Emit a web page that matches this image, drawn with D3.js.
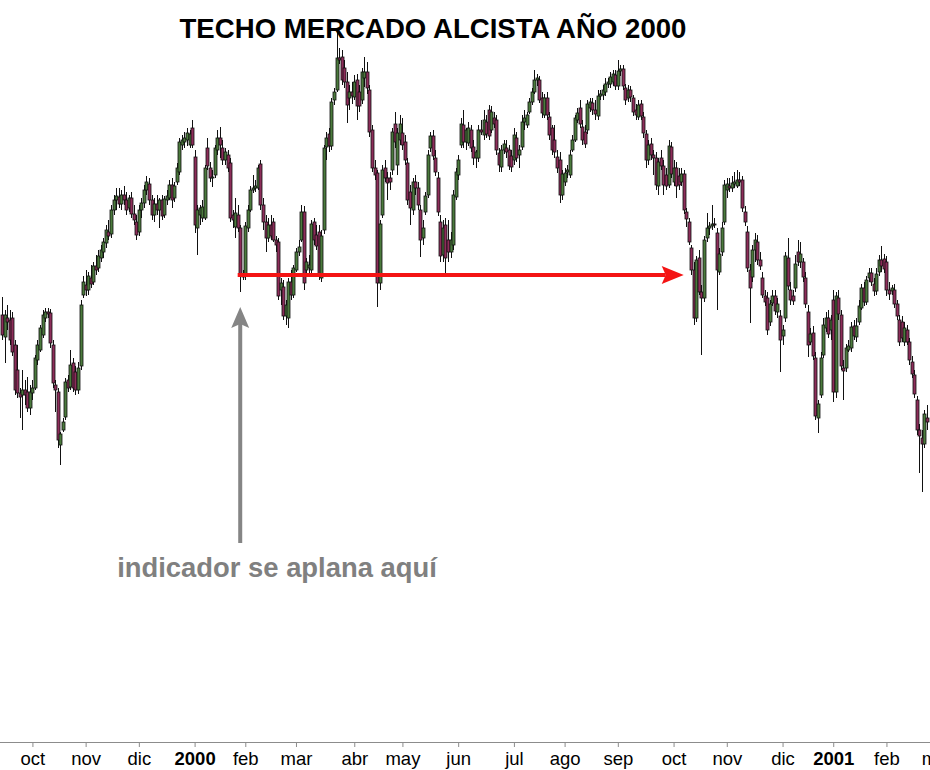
<!DOCTYPE html>
<html><head><meta charset="utf-8">
<script src="https://cdn.jsdelivr.net/npm/d3@7"></script>
<style>body{margin:0;background:#fff}svg{display:block}</style>
</head><body>
<svg id="chart" width="930" height="770"></svg>
<script>
const title = "TECHO MERCADO ALCISTA AÑO 2000";
const noteText = "indicador se aplana aquí";
const monthLabels = ["oct","nov","dic","2000","feb","mar","abr","may","jun","jul","ago","sep","oct","nov","dic","2001","feb","mar"];
const monthStartIdx = [12,33,54,76,96,116,139,158,180,202,222,243,265,286,308,328,349,369];
const yearLabels = ["2000","2001"];
// daily candles [open, high, low, close]
const ohlc = [
[1285,1303,1260,1265],[1263,1290,1237,1285],[1282,1295,1270,1278],[1280,1290,1255,1260],[1282,1288,1244,1248],
[1255,1260,1205,1210],[1230,1255,1202,1207],[1207,1212,1182,1203],[1205,1230,1170,1210],[1210,1220,1195,1205],
[1208,1223,1188,1192],[1192,1215,1185,1208],[1207,1220,1200,1212],[1212,1245,1210,1242],[1240,1260,1235,1255],
[1250,1275,1248,1272],[1265,1290,1262,1285],[1282,1292,1278,1288],[1288,1292,1282,1286],[1287,1291,1252,1257],
[1255,1260,1212,1217],[1215,1220,1188,1210],[1208,1212,1152,1160],[1155,1168,1135,1166],[1170,1182,1168,1178],
[1183,1222,1180,1218],[1220,1225,1208,1212],[1213,1250,1210,1235],[1237,1242,1208,1212],[1228,1234,1205,1210],
[1210,1238,1206,1232],[1234,1300,1230,1295],[1305,1324,1302,1318],[1315,1330,1304,1310],[1310,1328,1305,1324],
[1322,1335,1312,1316],[1318,1338,1315,1334],[1334,1345,1325,1330],[1332,1350,1328,1344],[1342,1355,1338,1350],
[1348,1362,1342,1358],[1357,1375,1352,1370],[1368,1380,1360,1364],[1366,1395,1362,1390],[1390,1405,1385,1400],
[1400,1412,1390,1404],[1403,1412,1392,1396],[1396,1410,1390,1405],[1405,1414,1395,1400],[1400,1408,1385,1390],
[1392,1405,1388,1402],[1402,1408,1382,1386],[1386,1395,1375,1380],[1378,1385,1360,1365],[1368,1395,1364,1390],
[1390,1402,1382,1397],[1397,1415,1392,1410],[1410,1424,1405,1418],[1416,1422,1395,1400],[1400,1405,1380,1385],
[1385,1402,1378,1396],[1396,1405,1385,1390],[1390,1402,1372,1400],[1400,1405,1380,1384],[1385,1404,1382,1401],
[1400,1410,1395,1404],[1402,1420,1400,1415],[1415,1422,1392,1400],[1402,1418,1398,1414],[1418,1437,1415,1432],
[1428,1462,1425,1458],[1455,1465,1450,1460],[1458,1468,1452,1462],[1460,1472,1454,1467],[1455,1470,1452,1466],
[1472,1480,1452,1455],[1443,1450,1367,1375],[1372,1395,1345,1390],[1385,1395,1375,1392],[1382,1400,1378,1393],
[1382,1435,1380,1432],[1452,1462,1430,1434],[1432,1438,1418,1422],[1422,1430,1413,1423],[1425,1455,1422,1452],
[1450,1470,1445,1462],[1462,1473,1442,1455],[1452,1460,1435,1440],[1440,1452,1435,1448],[1445,1450,1428,1432],
[1437,1442,1378,1382],[1385,1390,1372,1380],[1373,1402,1362,1387],[1385,1395,1368,1372],[1372,1375,1308,1324],
[1324,1330,1320,1323],[1325,1378,1320,1374],[1372,1395,1368,1390],[1390,1414,1388,1410],[1410,1425,1407,1412],
[1412,1420,1408,1414],[1412,1435,1410,1432],[1436,1440,1390,1395],[1395,1402,1370,1378],[1378,1385,1348,1362],
[1362,1382,1358,1375],[1375,1385,1360,1364],[1378,1382,1358,1360],[1360,1364,1348,1355],[1358,1362,1300,1304],
[1310,1322,1295,1317],[1313,1320,1280,1284],[1284,1300,1275,1295],[1282,1322,1272,1318],[1318,1330,1300,1305],
[1305,1335,1302,1332],[1330,1352,1328,1348],[1348,1360,1344,1353],[1360,1395,1358,1388],[1388,1394,1310,1317],
[1330,1342,1325,1338],[1332,1345,1326,1335],[1330,1380,1324,1376],[1378,1382,1355,1360],[1365,1375,1350,1354],
[1368,1375,1320,1324],[1322,1370,1318,1364],[1370,1455,1366,1452],[1453,1468,1440,1462],[1466,1472,1448,1454],
[1454,1502,1450,1498],[1500,1512,1495,1508],[1510,1570,1508,1542],[1542,1552,1536,1540],[1543,1550,1515,1520],
[1532,1540,1512,1518],[1518,1528,1477,1495],[1502,1515,1490,1508],[1508,1518,1496,1504],[1503,1525,1500,1518],
[1520,1526,1480,1494],[1508,1515,1488,1494],[1500,1532,1496,1528],[1522,1543,1513,1528],[1528,1538,1506,1512],
[1510,1515,1463,1468],[1470,1475,1428,1432],[1432,1440,1420,1425],[1427,1430,1293,1317],[1317,1380,1310,1376],
[1385,1435,1382,1430],[1432,1440,1418,1422],[1422,1428,1400,1417],[1422,1428,1410,1418],[1430,1472,1425,1468],
[1476,1488,1452,1458],[1435,1472,1425,1467],[1460,1485,1455,1476],[1467,1482,1450,1455],[1458,1465,1435,1440],
[1437,1442,1395,1400],[1408,1415,1375,1392],[1390,1422,1385,1418],[1418,1425,1405,1412],[1412,1418,1390,1395],
[1390,1395,1343,1360],[1362,1380,1355,1372],[1388,1408,1385,1404],[1405,1450,1402,1445],[1452,1468,1448,1464],
[1464,1470,1440,1444],[1442,1450,1424,1428],[1422,1428,1384,1388],[1378,1385,1338,1344],[1345,1380,1338,1372],
[1375,1382,1323,1342],[1360,1380,1338,1348],[1348,1368,1342,1360],[1355,1410,1350,1405],[1403,1432,1400,1428],
[1425,1445,1420,1440],[1455,1482,1452,1476],[1475,1490,1452,1458],[1458,1472,1450,1470],[1457,1478,1454,1472],
[1470,1475,1448,1452],[1453,1460,1435,1442],[1442,1450,1432,1448],[1442,1475,1438,1470],[1470,1480,1465,1468],
[1465,1490,1460,1480],[1478,1485,1462,1466],[1490,1495,1460,1464],[1470,1494,1467,1488],[1482,1488,1472,1476],
[1480,1485,1445,1450],[1447,1452,1428,1435],[1433,1455,1428,1450],[1450,1460,1446,1456],[1452,1460,1442,1448],
[1450,1455,1430,1434],[1444,1450,1428,1433],[1440,1472,1435,1465],[1462,1468,1438,1442],[1445,1455,1432,1450],
[1453,1485,1450,1478],[1478,1490,1470,1482],[1475,1488,1472,1485],[1488,1502,1486,1498],[1498,1512,1495,1508],
[1508,1530,1506,1520],[1520,1526,1514,1522],[1520,1524,1497,1500],[1502,1508,1482,1487],[1485,1506,1482,1502],
[1502,1508,1480,1485],[1483,1488,1460,1465],[1472,1475,1445,1450],[1460,1475,1442,1448],[1443,1450,1427,1432],
[1440,1448,1397,1405],[1405,1430,1400,1426],[1418,1432,1414,1427],[1428,1435,1422,1430],[1425,1450,1422,1445],
[1450,1465,1448,1460],[1460,1485,1458,1482],[1480,1492,1477,1487],[1492,1500,1472,1476],[1473,1480,1455,1460],
[1468,1475,1452,1456],[1470,1500,1466,1496],[1492,1502,1488,1498],[1497,1502,1485,1490],[1490,1500,1480,1486],
[1484,1510,1480,1504],[1504,1510,1500,1506],[1505,1515,1500,1510],[1508,1522,1504,1516],[1516,1522,1512,1518],
[1516,1528,1512,1523],[1518,1530,1514,1526],[1525,1530,1510,1514],[1514,1540,1510,1529],[1529,1535,1524,1531],
[1531,1535,1510,1514],[1512,1516,1495,1500],[1502,1515,1498,1510],[1510,1514,1498,1503],[1502,1505,1484,1488],
[1490,1496,1480,1485],[1483,1500,1480,1495],[1496,1500,1480,1484],[1483,1488,1462,1467],[1466,1470,1432,1440],
[1440,1460,1435,1455],[1456,1462,1440,1445],[1445,1450,1425,1442],[1442,1448,1410,1415],[1414,1442,1405,1438],
[1442,1450,1430,1434],[1434,1440,1405,1415],[1425,1432,1410,1414],[1415,1460,1412,1454],[1453,1458,1422,1426],
[1418,1440,1414,1432],[1432,1438,1402,1414],[1424,1432,1410,1415],[1418,1432,1414,1426],[1426,1430,1386,1390],
[1388,1392,1373,1381],[1378,1382,1355,1358],[1352,1355,1325,1330],[1330,1338,1275,1282],[1282,1344,1278,1340],
[1342,1350,1305,1308],[1308,1315,1245,1302],[1302,1364,1298,1360],[1362,1387,1358,1372],[1372,1378,1365,1374],
[1374,1395,1370,1376],[1376,1382,1372,1375],[1367,1372,1290,1330],[1328,1352,1325,1346],[1348,1378,1344,1372],
[1378,1420,1375,1415],[1410,1422,1402,1416],[1414,1422,1408,1412],[1412,1424,1408,1417],[1416,1428,1412,1418],
[1414,1430,1412,1420],[1420,1428,1414,1418],[1420,1424,1388,1392],[1388,1394,1374,1378],[1368,1374,1328,1332],
[1330,1336,1277,1312],[1323,1355,1318,1350],[1350,1367,1338,1360],[1358,1365,1335,1340],[1340,1348,1330,1334],
[1322,1328,1302,1305],[1304,1310,1294,1298],[1302,1308,1265,1270],[1278,1300,1274,1296],[1297,1310,1294,1304],
[1304,1310,1285,1289],[1288,1302,1282,1296],[1284,1290,1228,1260],[1264,1275,1255,1270],[1282,1348,1278,1344],
[1342,1362,1310,1314],[1310,1318,1295,1300],[1304,1310,1295,1299],[1312,1345,1308,1336],[1348,1360,1334,1338],
[1338,1358,1332,1346],[1338,1342,1318,1323],[1322,1328,1292,1296],[1288,1295,1243,1255],[1258,1272,1255,1266],
[1267,1274,1240,1244],[1242,1248,1180,1184],[1182,1200,1167,1196],[1205,1248,1202,1242],[1245,1282,1242,1275],
[1272,1288,1268,1282],[1282,1290,1262,1266],[1270,1285,1260,1280],[1300,1310,1198,1208],[1208,1308,1202,1304],
[1302,1310,1280,1286],[1285,1290,1230,1234],[1232,1240,1200,1229],[1232,1256,1228,1252],[1250,1260,1248,1254],
[1252,1278,1248,1273],[1274,1280,1260,1264],[1263,1282,1258,1274],[1278,1300,1275,1294],[1292,1316,1290,1312],
[1312,1318,1294,1298],[1298,1324,1295,1320],[1322,1332,1318,1327],[1327,1332,1314,1318],[1316,1322,1304,1309],
[1309,1332,1305,1326],[1328,1345,1324,1340],[1340,1354,1328,1334],[1341,1346,1327,1331],[1338,1344,1304,1310],
[1310,1318,1300,1306],[1309,1315,1305,1312],[1310,1316,1292,1296],[1296,1300,1280,1284],[1280,1285,1254,1258],
[1278,1284,1258,1262],[1258,1278,1254,1272],[1270,1275,1255,1258],[1258,1262,1235,1240],[1238,1244,1222,1226],
[1225,1230,1202,1206],[1200,1204,1165,1170],[1170,1176,1127,1164],[1162,1170,1108,1156],[1156,1190,1152,1186],
[1182,1195,1170,1178]
];
// annotation anchors (candle index / price level)
const flatLineStartIdx = 93;
const flatLineEndIdx = 269;
const flatLevel = 1325;
const noteArrowIdx = 94;
const noteArrowTip = 1293;

const W = 930, H = 770;
const svg = d3.select("#chart");
const font = "'Liberation Sans', Arial, Helvetica, sans-serif";

const x = d3.scaleLinear().domain([0, ohlc.length - 1]).range([2, 927]);
const y = d3.scaleLinear().domain([1100, 1570]).range([500, 30]);
const bw = 3;
const upFill = "#4b7a3d", downFill = "#8d2d5a";

const g = svg.append("g");
g.selectAll("line.wick").data(ohlc).join("line")
  .attr("class", "wick")
  .attr("x1", (d, i) => Math.round(x(i)) + 0.5)
  .attr("x2", (d, i) => Math.round(x(i)) + 0.5)
  .attr("y1", d => y(d[1]))
  .attr("y2", d => y(d[2]))
  .attr("stroke", "#111").attr("stroke-width", 1);

g.selectAll("rect.body").data(ohlc).join("rect")
  .attr("class", "body")
  .attr("x", (d, i) => Math.round(x(i)) - 1)
  .attr("width", bw)
  .attr("y", d => y(Math.max(d[0], d[3])))
  .attr("height", d => Math.max(1, Math.abs(y(d[0]) - y(d[3]))))
  .attr("fill", d => d[3] >= d[0] ? upFill : downFill)
  .attr("stroke", "#111").attr("stroke-width", 0.8);

// x axis
const axisY = 742;
svg.append("line").attr("x1", 0).attr("x2", W).attr("y1", axisY + 0.5).attr("y2", axisY + 0.5)
  .attr("stroke", "#8c8c8c").attr("stroke-width", 1);
const ax = svg.append("g").attr("transform", `translate(0,${axisY})`)
  .call(d3.axisBottom(x).tickValues(monthStartIdx).tickSize(5).tickPadding(4)
    .tickFormat((d, i) => monthLabels[i]));
ax.select(".domain").remove();
ax.selectAll(".tick line").attr("stroke", "#8c8c8c");
ax.selectAll(".tick text")
  .attr("font-family", font)
  .attr("font-size", 18.5)
  .attr("fill", "#000")
  .attr("font-weight", (d, i) => yearLabels.includes(monthLabels[i]) ? "bold" : "normal")
  .attr("y", 23)
  .attr("dy", 0);

// red horizontal arrow
const rx0 = x(flatLineStartIdx), rx1 = x(flatLineEndIdx), ry = y(flatLevel);
svg.append("line").attr("x1", rx0).attr("x2", rx1 - 18).attr("y1", ry).attr("y2", ry)
  .attr("stroke", "#f41414").attr("stroke-width", 4);
svg.append("path")
  .attr("d", `M${rx1},${ry} L${rx1 - 22},${ry - 9} L${rx1 - 18},${ry} L${rx1 - 22},${ry + 9} Z`)
  .attr("fill", "#f41414");

// gray vertical arrow
const gx = x(noteArrowIdx), gy = y(noteArrowTip);
svg.append("line").attr("x1", gx).attr("x2", gx).attr("y1", 543).attr("y2", gy + 16)
  .attr("stroke", "#858585").attr("stroke-width", 4);
svg.append("path")
  .attr("d", `M${gx},${gy} L${gx - 9},${gy + 21} L${gx},${gy + 17} L${gx + 9},${gy + 21} Z`)
  .attr("fill", "#858585");

// texts
svg.append("text").attr("x", 433).attr("y", 38).attr("text-anchor", "middle")
  .attr("font-family", font).attr("font-weight", "bold").attr("font-size", 27.6)
  .attr("fill", "#000").text(title);
svg.append("text").attr("x", 277).attr("y", 577).attr("text-anchor", "middle")
  .attr("font-family", font).attr("font-weight", "bold").attr("font-size", 27.4)
  .attr("fill", "#808080").text(noteText);
</script>
</body></html>
